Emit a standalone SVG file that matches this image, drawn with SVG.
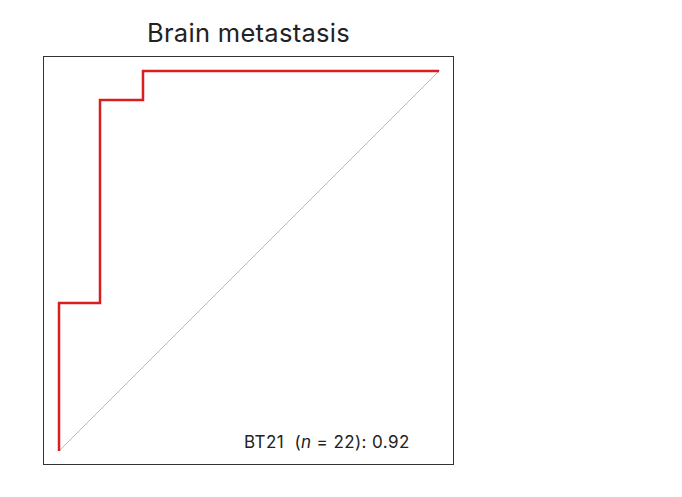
<svg xmlns="http://www.w3.org/2000/svg" width="682" height="497" viewBox="0 0 682 497">
<style>text{font-family:Inter,"Liberation Sans",sans-serif;fill:#222}</style>
<rect width="682" height="497" fill="#fff"/>
<rect x="43.5" y="56.5" width="410" height="408" fill="none" stroke="#333" stroke-width="1"/>
<g id="connectors">
<line x1="59" y1="451" x2="440" y2="70" stroke="#bbb" stroke-width="1"/>
<polyline points="59,451 59,303 100,303 100,100 143,100 143,71 439,71" fill="none" stroke="#d81e1e" stroke-width="2.5"/>
</g>
<text x="248.5" y="42" font-size="25.5" text-anchor="middle" letter-spacing="0.3">Brain metastasis</text>
<text x="244" y="448" font-size="17" xml:space="preserve" letter-spacing="0.4">BT21  (<tspan font-style="italic">n</tspan> = 22): 0.92</text>
</svg>
